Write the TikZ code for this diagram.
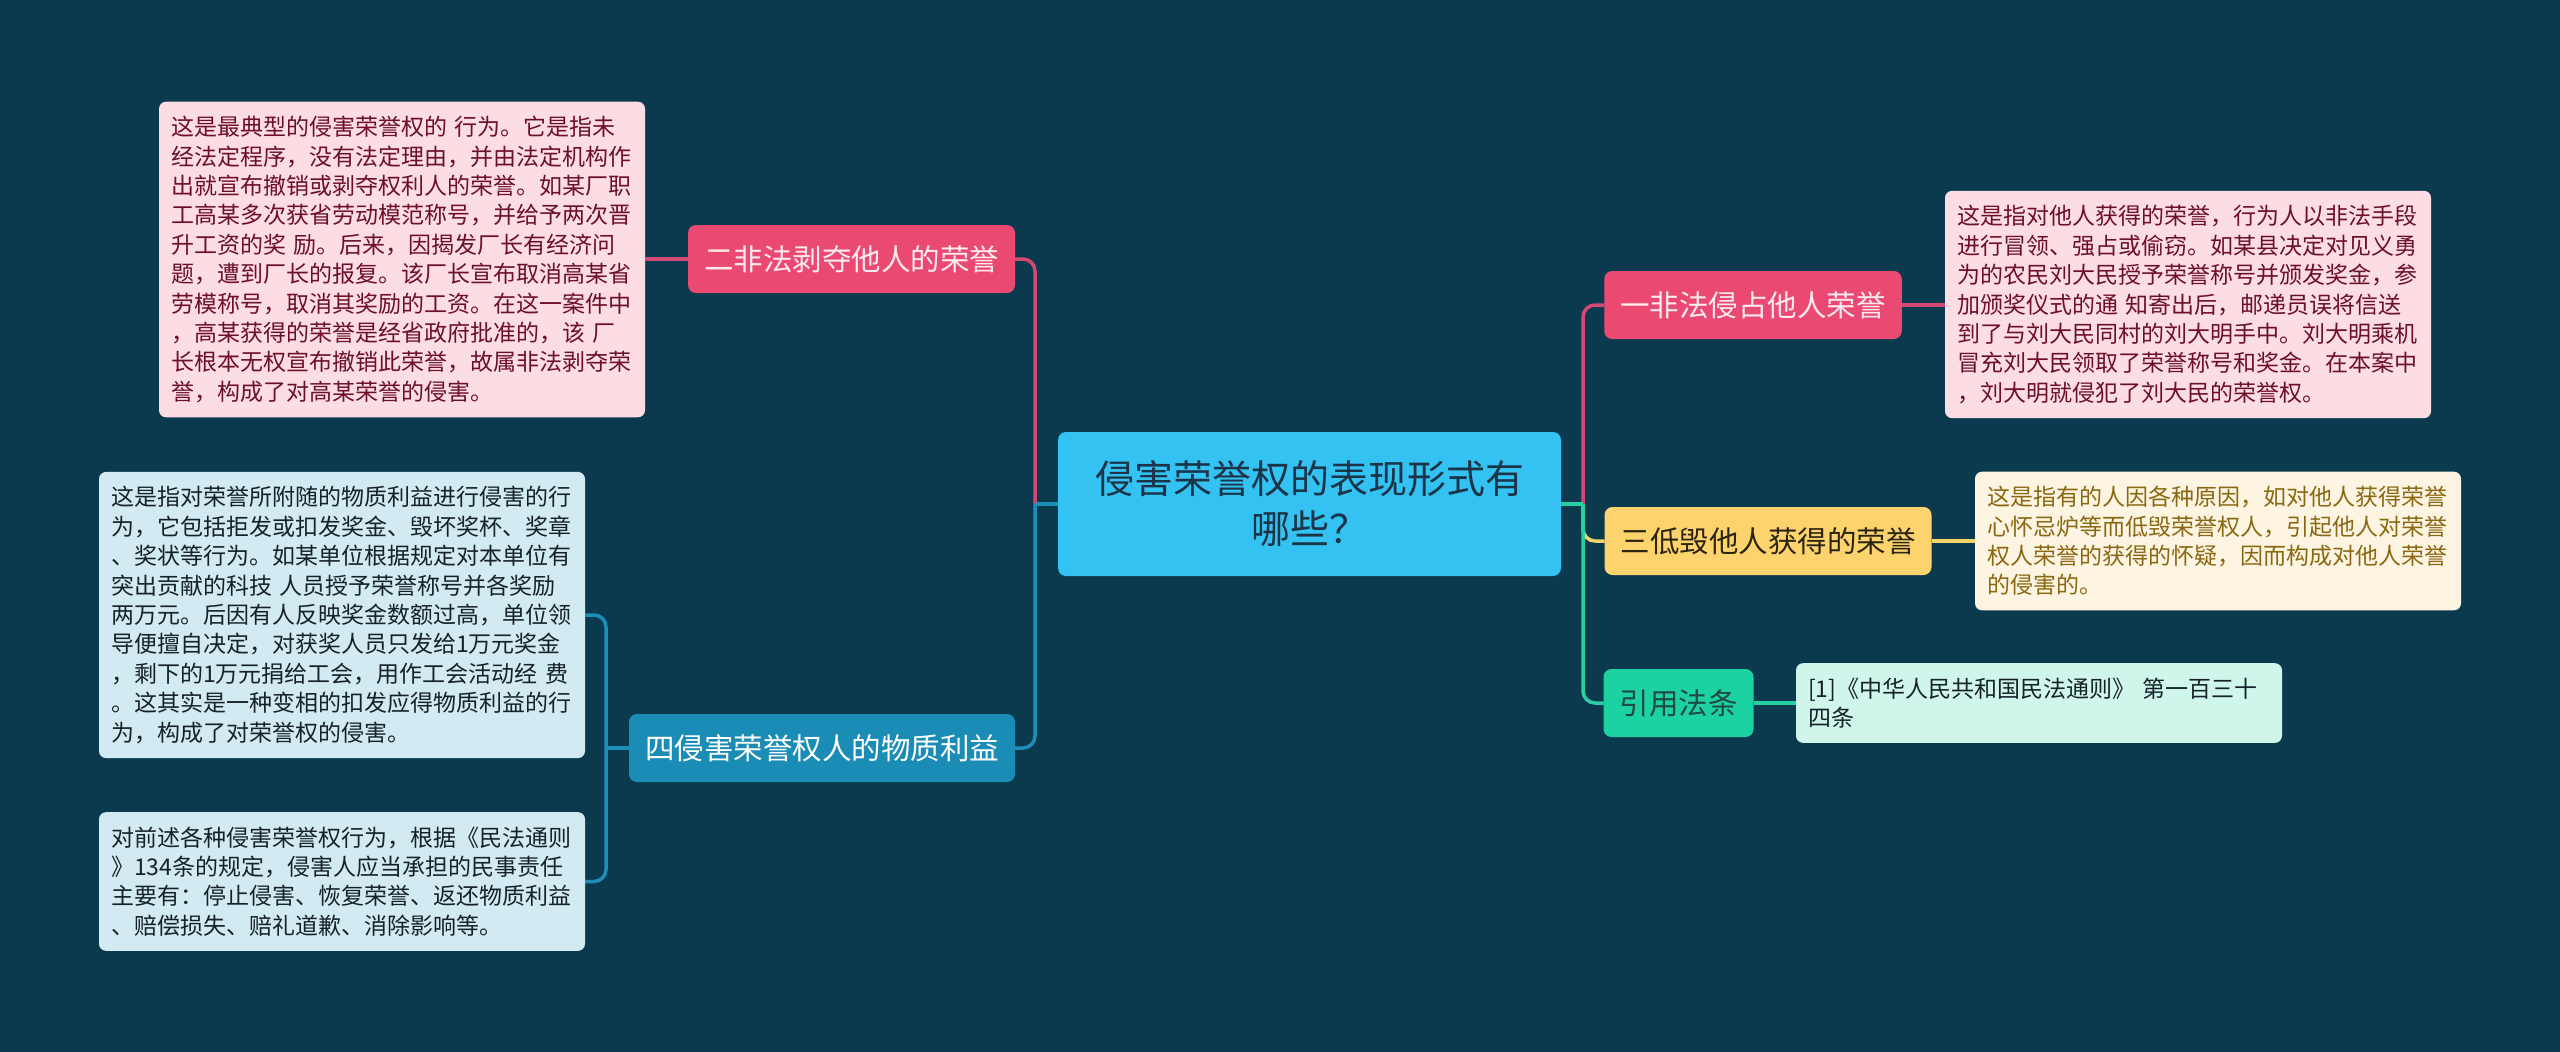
\documentclass[tikz,border=0pt]{standalone}
\usepackage{fontspec}
\setmainfont{Noto Sans CJK SC}
\definecolor{bg}{HTML}{0B3A4E}
\definecolor{cfill}{HTML}{33C2F2}
\definecolor{ctext}{HTML}{1B3447}
\definecolor{pinknode}{HTML}{EA4A72}
\definecolor{pinktext}{HTML}{FFEAF0}
\definecolor{pinkline}{HTML}{D24A74}
\definecolor{pinkleaf}{HTML}{FBDDE3}
\definecolor{pinkleaftext}{HTML}{6E0F2A}
\definecolor{bluenode}{HTML}{1A8CB5}
\definecolor{blueline}{HTML}{1E8DB8}
\definecolor{blueleaf}{HTML}{D2EAF1}
\definecolor{darktext}{HTML}{16222A}
\definecolor{yellownode}{HTML}{FDD36E}
\definecolor{yellowtext}{HTML}{2B2510}
\definecolor{yellowline}{HTML}{F2D46A}
\definecolor{yellowleaf}{HTML}{FDF5E1}
\definecolor{yellowleaftext}{HTML}{8A6712}
\definecolor{greennode}{HTML}{1DD2A2}
\definecolor{greentext}{HTML}{1E4A40}
\definecolor{greenline}{HTML}{27CFA3}
\definecolor{greenleaf}{HTML}{D0F6EC}
\begin{document}
\begin{tikzpicture}[x=1pt,y=-1pt,
  every node/.style={inner sep=0pt, outer sep=0pt},
  topic/.style={rounded corners=8pt, minimum height=68pt, inner xsep=16pt, font=\fontsize{29.5}{36}\selectfont},
  leaf/.style={rounded corners=7pt, align=left, text width=462pt, inner xsep=12pt, inner ysep=14.5pt, font=\fontsize{23}{29.4}\selectfont},
  conn/.style={line width=3.5pt, rounded corners=12pt},
  straight/.style={line width=3.5pt}
]
\fill[bg] (0,0) rectangle (2560,1052);
\useasboundingbox (0,0) rectangle (2560,1052);

% centre
\node[fill=cfill, text=ctext, rounded corners=8pt, minimum width=503pt, minimum height=144pt, align=center, font=\fontsize{39}{50}\selectfont] (c) at (1309.5,504) {侵害荣誉权的表现形式有\\哪些？};

% topics
\node[topic, fill=pinknode, text=pinktext] (n2) at (851.5,259) {二非法剥夺他人的荣誉};
\node[topic, fill=bluenode, text=white] (n4) at (822,748) {四侵害荣誉权人的物质利益};
\node[topic, fill=pinknode, text=pinktext] (n1) at (1753,305) {一非法侵占他人荣誉};
\node[topic, fill=yellownode, text=yellowtext] (n3) at (1768,541) {三低毁他人获得的荣誉};
\node[topic, fill=greennode, text=greentext] (n5) at (1678.5,703) {引用法条};

% leaves
\node[leaf, fill=pinkleaf, text=pinkleaftext] (l1) at (402,259.5) {这是最典型的侵害荣誉权的 行为。它是指未\\经法定程序，没有法定理由，并由法定机构作\\出就宣布撤销或剥夺权利人的荣誉。如某厂职\\工高某多次获省劳动模范称号，并给予两次晋\\升工资的奖 励。后来，因揭发厂长有经济问\\题，遭到厂长的报复。该厂长宣布取消高某省\\劳模称号，取消其奖励的工资。在这一案件中\\，高某获得的荣誉是经省政府批准的，该 厂\\长根本无权宣布撤销此荣誉，故属非法剥夺荣\\誉，构成了对高某荣誉的侵害。};
\node[leaf, fill=blueleaf, text=darktext] (l2) at (342,615) {这是指对荣誉所附随的物质利益进行侵害的行\\为，它包括拒发或扣发奖金、毁坏奖杯、奖章\\、奖状等行为。如某单位根据规定对本单位有\\突出贡献的科技 人员授予荣誉称号并各奖励\\两万元。后因有人反映奖金数额过高，单位领\\导便擅自决定，对获奖人员只发给1万元奖金\\，剩下的1万元捐给工会，用作工会活动经 费\\。这其实是一种变相的扣发应得物质利益的行\\为，构成了对荣誉权的侵害。};
\node[leaf, fill=blueleaf, text=darktext] (l3) at (342,881.5) {对前述各种侵害荣誉权行为，根据《民法通则\\》134条的规定，侵害人应当承担的民事责任\\主要有：停止侵害、恢复荣誉、返还物质利益\\、赔偿损失、赔礼道歉、消除影响等。};
\node[leaf, fill=pinkleaf, text=pinkleaftext] (r1) at (2188,304.5) {这是指对他人获得的荣誉，行为人以非法手段\\进行冒领、强占或偷窃。如某县决定对见义勇\\为的农民刘大民授予荣誉称号并颁发奖金，参\\加颁奖仪式的通 知寄出后，邮递员误将信送\\到了与刘大民同村的刘大明手中。刘大明乘机\\冒充刘大民领取了荣誉称号和奖金。在本案中\\，刘大明就侵犯了刘大民的荣誉权。};
\node[leaf, fill=yellowleaf, text=yellowleaftext] (r2) at (2218,541) {这是指有的人因各种原因，如对他人获得荣誉\\心怀忌炉等而低毁荣誉权人，引起他人对荣誉\\权人荣誉的获得的怀疑，因而构成对他人荣誉\\的侵害的。};
\node[leaf, fill=greenleaf, text=darktext] (r3) at (2039,703) {[1]《中华人民共和国民法通则》 第一百三十\\四条};

% junctions
\coordinate (jl) at (1035,504);
\coordinate (jr) at (1583,504);
\coordinate (j4) at (606,748);

% connectors
\draw[conn, pinkline] (jl) |- (n2.east);
\draw[conn, blueline] (jl) |- (n4.east);
\draw[straight, blueline] (c.west) -- (jl);
\draw[conn, pinkline] (jr) |- (n1.west);
\draw[conn, yellowline] (jr) |- (n3.west);
\draw[conn, greenline] (jr) |- (n5.west);
\draw[straight, greenline] (c.east) -- (jr);
\draw[straight, pinkline] (n2.west) -- (l1.east |- n2.west);
\draw[straight, pinkline] (n1.east) -- (r1.west |- n1.east);
\draw[straight, yellowline] (n3.east) -- (r2.west |- n3.east);
\draw[straight, greenline] (n5.east) -- (r3.west |- n5.east);
\draw[straight, blueline] (n4.west) -- (j4);
\draw[conn, blueline] (j4) |- (l2.east);
\draw[conn, blueline] (j4) |- (l3.east);
\end{tikzpicture}
\end{document}
